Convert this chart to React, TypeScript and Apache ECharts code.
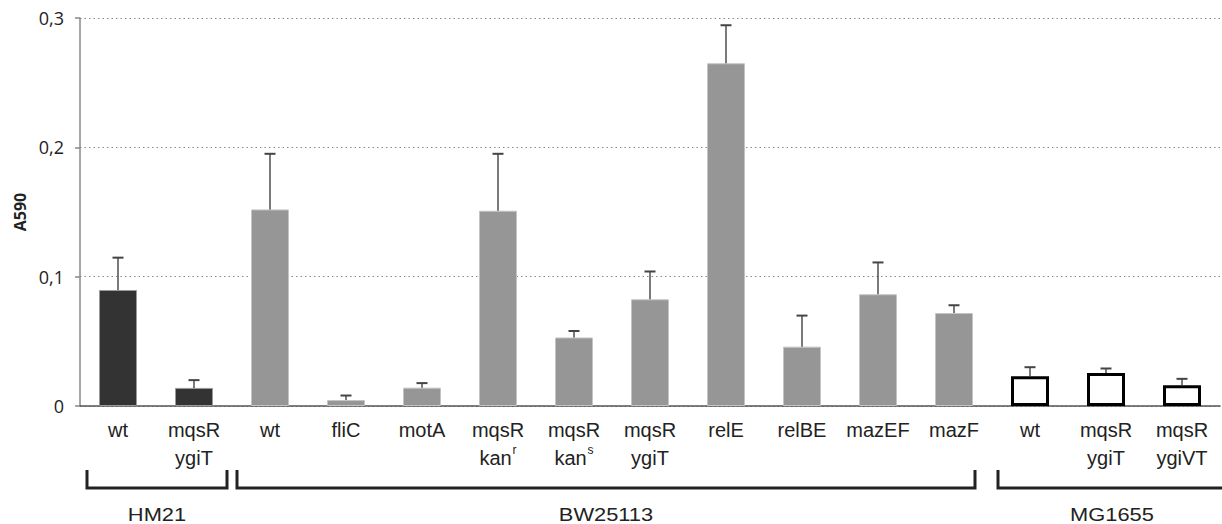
import React, { useEffect, useRef } from "react";
import * as echarts from "echarts";

// ---- data ----
const categories = [
  "wt", "mqsR\nygiT",
  "wt", "fliC", "motA", "mqsR\nkan^r", "mqsR\nkan^s", "mqsR\nygiT", "relE", "relBE", "mazEF", "mazF",
  "wt", "mqsR\nygiT", "mqsR\nygiVT",
];
const values = [
  0.0897, 0.014,
  0.152, 0.0046, 0.0142, 0.151, 0.053, 0.0825, 0.265, 0.0459, 0.0864, 0.0719,
  0.023, 0.0255, 0.016,
];
const errors = [
  0.025, 0.006,
  0.043, 0.0035, 0.0035, 0.044, 0.005, 0.0215, 0.0294, 0.024, 0.0246, 0.006,
  0.007, 0.0035, 0.005,
];
const strains = ["HM21", "BW25113", "MG1655"];
const strainOf = [0, 0, 1, 1, 1, 1, 1, 1, 1, 1, 1, 1, 2, 2, 2];
const yTicks = [0, 0.1, 0.2, 0.3];
const yName = "A590";

// ---- styles ----
const barStyles = [
  { color: "#333333", borderColor: "#9a9a9a", borderWidth: 1 },
  { color: "#969696", borderColor: "#c4c4c4", borderWidth: 1 },
  { color: "#ffffff", borderColor: "#000000", borderWidth: 3 },
];
// bracket pixel offsets relative to first / last category centre of each strain
const bracketPad = [
  { l: -31, r: 33 },
  { l: -33, r: 21 },
  { l: -32, r: 44 },
];
const FONT = "Liberation Sans, Arial, sans-serif";

function labelFormatter(v: string) {
  return v
    .split("\n")
    .map((line) => {
      const m = line.match(/^(.*)\^(\w+)$/);
      return m ? `{a|${m[1]}}{sup|${m[2]}}` : `{a|${line}}`;
    })
    .join("\n");
}

export default function App() {
  const ref = useRef<HTMLDivElement>(null);
  useEffect(() => {
    if (!ref.current) return;
    const chart = echarts.init(ref.current, null, { renderer: "svg" });
    const option: any = {
      animation: false,
      backgroundColor: "#ffffff",
      grid: { left: 80, right: 2, top: 18, bottom: 118, containLabel: false },
      xAxis: {
        type: "category",
        data: categories,
        axisLine: { show: true, lineStyle: { color: "#555", width: 1.5 } },
        axisTick: { show: false },
        splitLine: { show: false },
        axisLabel: {
          interval: 0,
          margin: 10,
          formatter: labelFormatter,
          rich: {
            a: { fontSize: 20, fontFamily: FONT, color: "#222", lineHeight: 28 },
            sup: { fontSize: 12, fontFamily: FONT, color: "#222", lineHeight: 18, verticalAlign: "top", padding: [0, 0, 0, 1] },
          },
        },
      },
      yAxis: {
        type: "value",
        min: yTicks[0],
        max: yTicks[yTicks.length - 1],
        interval: yTicks[1] - yTicks[0],
        name: yName,
        nameLocation: "middle",
        nameRotate: 90,
        nameGap: 52,
        nameTextStyle: { fontFamily: "Open Sans, sans-serif", fontWeight: "bold", fontSize: 16, color: "#222" },
        axisLine: { show: true, lineStyle: { color: "#888", width: 1.5 } },
        axisTick: { show: true, length: 5, lineStyle: { color: "#888", width: 1.5 } },
        axisLabel: {
          margin: 16,
          fontFamily: "Open Sans, sans-serif",
          fontSize: 18,
          color: "#222",
          formatter: (v: number) => (v === 0 ? "0" : v.toFixed(1).replace(".", ",")),
        },
        splitLine: { show: true, lineStyle: { color: "#888", type: [1.5, 3], width: 1.2 } },
      },
      series: [
        {
          type: "bar",
          barWidth: 38,
          data: values.map((v, i) => ({ value: v, itemStyle: barStyles[strainOf[i]] })),
          z: 2,
        },
        {
          type: "custom",
          z: 3,
          data: values.map((v, i) => [i, v, v + errors[i]]),
          renderItem: (params: any, api: any) => {
            const i = api.value(0);
            const top = api.coord([i, api.value(2)]);
            const base = api.coord([i, api.value(1)]);
            const half = 5.5;
            return {
              type: "group",
              children: [
                { type: "line", shape: { x1: top[0], y1: base[1], x2: top[0], y2: top[1] }, style: { stroke: "#333", lineWidth: 1.3 } },
                { type: "line", shape: { x1: top[0] - half, y1: top[1], x2: top[0] + half, y2: top[1] }, style: { stroke: "#444", lineWidth: 2 } },
              ],
            };
          },
        },
      ],
    };
    chart.setOption(option);

    // strain brackets, positioned from the category axis
    const graphics: any[] = [];
    const yTop = 470;
    const yBot = 488;
    strains.forEach((name, g) => {
      const idx = strainOf.map((s, i) => (s === g ? i : -1)).filter((i) => i >= 0);
      const first = chart.convertToPixel({ xAxisIndex: 0 }, idx[0]) as number;
      const last = chart.convertToPixel({ xAxisIndex: 0 }, idx[idx.length - 1]) as number;
      const x1 = first + bracketPad[g].l;
      const x2 = last + bracketPad[g].r;
      graphics.push({
        type: "polyline",
        shape: { points: [[x1, yTop], [x1, yBot], [x2, yBot], [x2, yTop]] },
        style: { stroke: "#222", lineWidth: 3, fill: null },
      });
      graphics.push({
        type: "text",
        x: (x1 + x2) / 2,
        y: 514,
        scaleX: 1.15,
        style: {
          text: name,
          fontSize: 19,
          fontFamily: FONT,
          fill: "#222",
          align: "center",
          verticalAlign: "middle",
        },
      });
    });
    chart.setOption({ graphic: graphics });

    return () => chart.dispose();
  }, []);
  return <div ref={ref} style={{ position: "absolute", left: 0, top: 0, width: 1222, height: 524 }} />;
}
